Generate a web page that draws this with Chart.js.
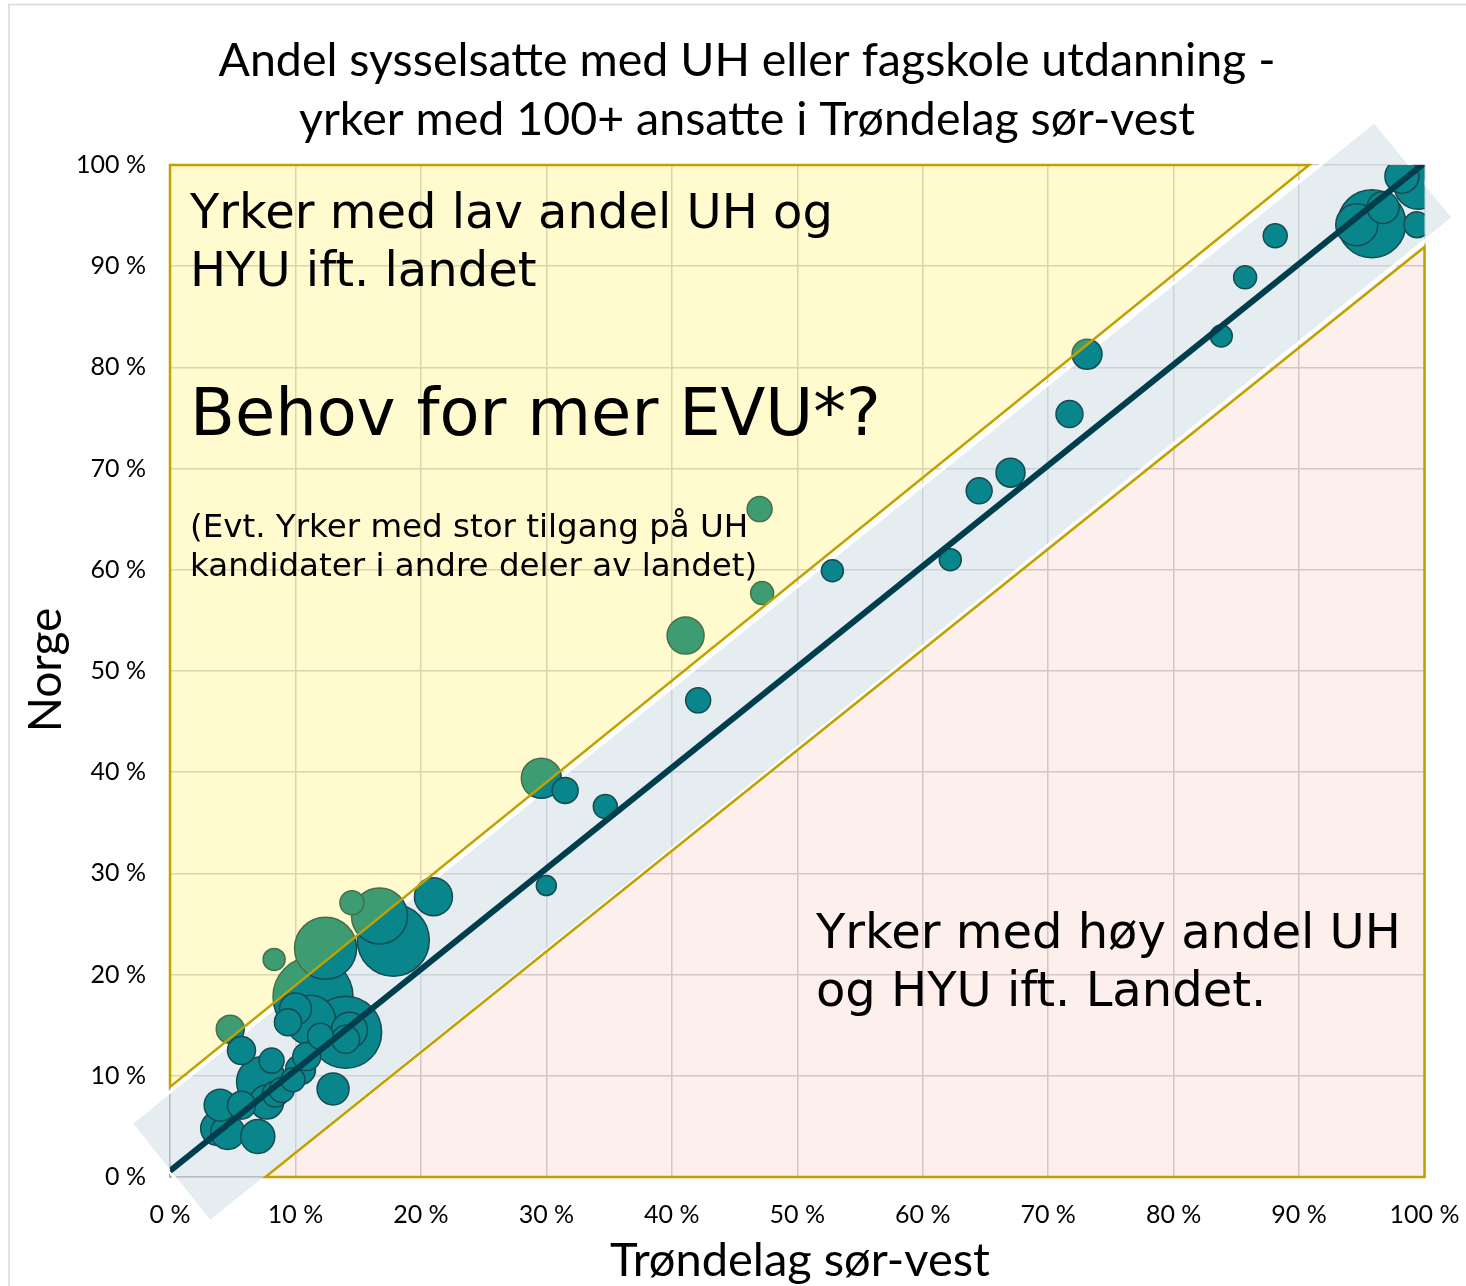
<!DOCTYPE html>
<html>
<head>
<meta charset="utf-8">
<script src="https://cdn.jsdelivr.net/npm/chart.js@4.4.1/dist/chart.umd.min.js"></script>
<style>
  html, body { margin: 0; padding: 0; background: #fff; }
  #wrap { width: 1466px; height: 1286px; }
</style>
</head>
<body>
<div id="wrap"><canvas id="chart" width="1466" height="1286"></canvas></div>
<script>
// share of employees with UH/fagskole education, per occupation (100+ employees)
const regionShare = [98.2, 99.5, 96.7, 95.8, 94.6, 99.4, 88.1, 85.7, 83.8, 73.1, 71.7, 67.0, 64.5, 62.2, 52.8,
  47.0, 47.2, 41.1, 42.1, 29.6, 31.5, 34.7, 30.0, 21.0, 14.5, 16.7, 17.8, 12.4, 8.3, 11.4,
  4.8, 5.7, 14.0, 14.3, 14.0, 10.0, 9.4, 11.2, 12.0, 10.9, 10.4, 8.1, 7.3, 8.9, 7.7,
  5.7, 4.0, 3.8, 4.6, 7.0, 13.0, 9.8, 8.4];
const norwayShare = [98.9, 98.0, 95.8, 94.2, 94.1, 94.1, 93.0, 88.9, 83.1, 81.3, 75.4, 69.6, 67.8, 61.0, 59.9,
  66.0, 57.7, 53.5, 47.1, 39.4, 38.2, 36.6, 28.8, 27.7, 27.1, 25.8, 23.4, 22.6, 21.5, 17.8,
  14.6, 12.5, 14.3, 14.5, 13.6, 16.6, 15.3, 15.5, 13.9, 11.9, 10.6, 11.5, 9.4, 8.6, 7.4,
  7.1, 7.1, 4.8, 4.4, 4.0, 8.7, 9.6, 8.2];
// bubble radius (employment size)
const bubbleSize = [17, 24, 16, 34, 21, 13, 12, 11.5, 11, 15, 13.5, 14.5, 13, 11, 11,
  12.5, 11.5, 18.5, 12.5, 20, 13, 12, 10, 19, 12, 28, 36, 31, 11, 40,
  14, 14, 36, 18, 14, 16, 13.5, 25, 13, 14, 15, 12.5, 25, 12.5, 17,
  14, 16, 17, 17, 17, 16, 12, 13];
const trendX = [0, 100];
const trendY = [0.6, 100.2];
const axisTicks = [0, 10, 20, 30, 40, 50, 60, 70, 80, 90, 100];

// shaded zones (data coords)
const lowZone = [[0, 8.9], [0, 100], [90.8, 100]];
const highZone = [[7.6, 0], [100, 0], [100, 91.9]];
const band = [[-3.1, 5.3], [96.0, 104.3], [102.3, 94.8], [3.2, -4.45]];

let points = regionShare.map((x, i) => ({ x: x, y: norwayShare[i], r: bubbleSize[i] }));
points.sort((a, b) => b.r - a.r);

function poly(chart, pts) {
  const xs = chart.scales.x, ys = chart.scales.y, ctx = chart.ctx;
  ctx.beginPath();
  pts.forEach((p, i) => {
    const px = xs.getPixelForValue(p[0]), py = ys.getPixelForValue(p[1]);
    if (i === 0) ctx.moveTo(px, py); else ctx.lineTo(px, py);
  });
  ctx.closePath();
}

const zones = {
  id: 'zones',
  beforeDatasetsDraw(chart) {
    const ctx = chart.ctx;
    ctx.save();
    poly(chart, band);
    ctx.fillStyle = 'rgba(200,214,222,0.45)';
    ctx.fill();
    ctx.strokeStyle = '#ffffff';
    ctx.lineWidth = 3;
    ctx.stroke();
    ctx.restore();
  },
  afterDatasetsDraw(chart) {
    const ctx = chart.ctx;
    ctx.save();
    ctx.lineJoin = 'miter';
    poly(chart, lowZone);
    ctx.fillStyle = 'rgba(255,235,30,0.22)';
    ctx.fill();
    ctx.strokeStyle = '#c0a100';
    ctx.lineWidth = 2.5;
    ctx.stroke();
    poly(chart, highZone);
    ctx.fillStyle = 'rgba(240,150,120,0.14)';
    ctx.fill();
    ctx.stroke();
    ctx.restore();
  },
  afterDraw(chart) {
    const ctx = chart.ctx, a = chart.chartArea;
    ctx.save();
    // outer frame (top and left visible)
    ctx.strokeStyle = '#d9d9d9';
    ctx.lineWidth = 1.5;
    ctx.beginPath();
    ctx.moveTo(9, 1286); ctx.lineTo(9, 4.5); ctx.lineTo(1466, 4.5);
    ctx.stroke();

    ctx.fillStyle = '#000';
    ctx.textAlign = 'center';
    ctx.textBaseline = 'alphabetic';
    ctx.font = '46.5px Lato';
    ctx.fillText('Andel sysselsatte med UH eller fagskole utdanning -', 747, 76);
    ctx.fillText('yrker med 100+ ansatte i Trøndelag sør-vest', 747, 135);

    ctx.font = '47px Lato';
    ctx.fillText('Trøndelag sør-vest', 800, 1276);
    ctx.font = '46px Lato';
    ctx.save();
    ctx.translate(61, 670);
    ctx.rotate(-Math.PI / 2);
    ctx.fillText('Norge', 0, 0);
    ctx.restore();

    ctx.textAlign = 'left';
    ctx.font = '48px "DejaVu Sans"';
    ctx.fillText('Yrker med lav andel UH og', a.left + 20, 228);
    ctx.fillText('HYU ift. landet', a.left + 20, 286);
    ctx.font = '65.5px "DejaVu Sans"';
    ctx.fillText('Behov for mer EVU*?', a.left + 20, 435);
    ctx.font = '32.5px "DejaVu Sans"';
    ctx.fillText('(Evt. Yrker med stor tilgang på UH', a.left + 20, 537);
    ctx.fillText('kandidater i andre deler av landet)', a.left + 20, 576);
    ctx.font = '48px "DejaVu Sans"';
    ctx.fillText('Yrker med høy andel UH', 816, 948);
    ctx.fillText('og HYU ift. Landet.', 816, 1006);
    ctx.restore();
  }
};

new Chart(document.getElementById('chart'), {
  type: 'bubble',
  data: {
    datasets: [{
      type: 'line',
      data: trendX.map((x, i) => ({ x: x, y: trendY[i] })),
      borderColor: '#003e4e',
      borderWidth: 6,
      pointRadius: 0,
      order: 0
    }, {
      data: points,
      backgroundColor: '#08868b',
      borderColor: '#174a52',
      borderWidth: 1.5,
      hoverRadius: 0,
      clip: 0,
      order: 1
    }]
  },
  options: {
    responsive: false,
    animation: false,
    devicePixelRatio: 1,
    layout: { padding: { top: 165, right: 41, left: 0, bottom: 0 } },
    plugins: { legend: { display: false }, tooltip: { enabled: false } },
    scales: {
      x: {
        type: 'linear', min: 0, max: 100,
        afterFit: s => { s.height = 109; s.paddingLeft = 0; s.paddingRight = 0; },
        afterBuildTicks: s => { s.ticks = axisTicks.map(v => ({ value: v })); },
        grid: { color: '#d0d0d0', lineWidth: 1.5, drawTicks: false },
        border: { color: '#a8a8a8', width: 1.5 },
        ticks: { padding: 23, color: '#000', font: { family: 'Lato', size: 25 }, callback: v => v + ' %' }
      },
      y: {
        type: 'linear', min: 0, max: 100,
        afterFit: s => { s.width = 170; s.paddingTop = 0; s.paddingBottom = 0; },
        afterBuildTicks: s => { s.ticks = axisTicks.map(v => ({ value: v })); },
        grid: { color: '#d0d0d0', lineWidth: 1.5, drawTicks: false },
        border: { color: '#a8a8a8', width: 1.5 },
        ticks: { padding: 24, color: '#000', font: { family: 'Lato', size: 25 }, callback: v => v + ' %' }
      }
    }
  },
  plugins: [zones]
});
</script>
</body>
</html>
